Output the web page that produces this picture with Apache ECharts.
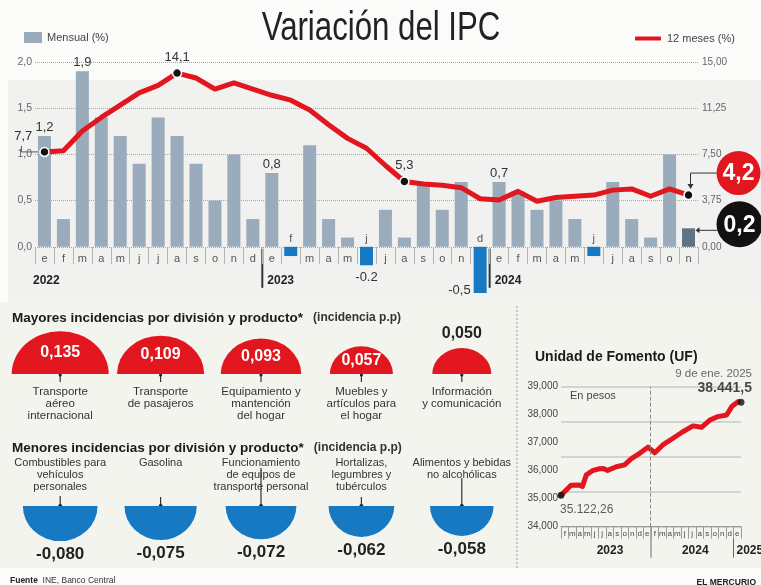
<!DOCTYPE html>
<html>
<head>
<meta charset="utf-8">
<script src="https://cdn.jsdelivr.net/npm/echarts@6/dist/echarts.min.js"></script>
<style>
  html, body { margin: 0; padding: 0; background: #fbfbf9; }
  #main { width: 761px; height: 585px; }
</style>
</head>
<body>
<div id="main"></div>
<script>
// ---- data ----
var months = ['e','f','m','a','m','j','j','a','s','o','n','d',
              'e','f','m','a','m','j','j','a','s','o','n','d',
              'e','f','m','a','m','j','j','a','s','o','n'];
var years = ['2022', '2023', '2024'];
var monthly = [1.2, 0.3, 1.9, 1.4, 1.2, 0.9, 1.4, 1.2, 0.9, 0.5, 1.0, 0.3,
               0.8, -0.1, 1.1, 0.3, 0.1, -0.2, 0.4, 0.1, 0.7, 0.4, 0.7, -0.5,
               0.7, 0.6, 0.4, 0.5, 0.3, -0.1, 0.7, 0.3, 0.1, 1.0, 0.2];
var annual = [7.7, 7.8, 9.4, 10.5, 11.5, 12.5, 13.1, 14.1, 13.7, 12.8, 13.3, 12.8,
              12.3, 11.9, 11.1, 9.9, 8.8, 8.0, 6.6, 5.3, 5.1, 5.0, 4.8, 3.9,
              3.8, 4.5, 3.7, 4.0, 4.1, 4.2, 4.6, 4.7, 4.1, 4.7, 4.2];
var barLabelled = [0, 2, 12, 24];
var negLabelled = [17, 23];
var negLabelText = ['-0.2', '-0,5'];
var lineDots = [0, 7, 19, 34];

var mayoresNames = ['Transporte\naéreo\ninternacional', 'Transporte\nde pasajeros',
                    'Equipamiento y\nmantención\ndel hogar', 'Muebles y\nartículos para\nel hogar',
                    'Información\ny comunicación'];
var mayoresValues = [0.135, 0.109, 0.093, 0.057, 0.050];
var menoresNames = ['Combustibles para\nvehículos\npersonales', 'Gasolina',
                    'Funcionamiento\nde equipos de\ntransporte personal', 'Hortalizas,\nlegumbres y\ntubérculos',
                    'Alimentos y bebidas\nno alcohólicas'];
var menoresValues = [-0.080, -0.075, -0.072, -0.062, -0.058];

var ufMonths = ['f','m','a','m','j','j','a','s','o','n','d','e',
                'f','m','a','m','j','j','a','s','o','n','d','e'];
var ufYears = ['2023', '2024', '2025'];
// days since 1 Jan 2023
var ufDays = [0, 41, 75, 88, 104, 129, 158, 174, 191, 227, 261, 289, 323,
              357, 385, 418, 460, 500, 542, 577, 611, 644, 680, 701, 728];
var ufValues = [35122, 35480, 35490, 35440, 35850, 36000, 36070, 36080, 36010, 36140, 36210, 36430, 36620,
                36840, 36640, 36920, 37160, 37390, 37600, 37550, 37810, 37930, 37990, 38290, 38470];
var ufStart = [0, 35122.26];
var ufEnd = [739, 38441.5];
var ufEndDate = '9 de ene. 2025';

// ---- helpers ----
var FR = "'Liberation Sans', Arial, sans-serif";
var RED = '#e2161e', BLUE = '#1679c2', BARC = '#9aabbb';
var K = 132; // px of radius per sqrt(p.p.)

function fmt(v, d) { return v.toFixed(d).replace('.', ','); }
function es(v, d) {
  var s = v.toFixed(d).split('.');
  s[0] = s[0].replace(/\B(?=(\d{3})+(?!\d))/g, '.');
  return d ? s[0] + ',' + s[1] : s[0];
}

var barData = monthly.map(function (v, i) {
  var item = { value: v };
  if (v < 0) item.itemStyle = { color: BLUE };
  if (i === monthly.length - 1) item.itemStyle = { color: '#5e7383' };
  return item;
});

var lineData = annual.map(function (v, i) {
  var item = { value: v };
  if (lineDots.indexOf(i) >= 0) {
    item.symbol = 'circle';
    item.symbolSize = 9;
    if (i === 0) {
      item.label = { show: true, position: [-16, -10], align: 'center', verticalAlign: 'middle' };
    } else if (i !== annual.length - 1) {
      item.label = { show: true, position: 'top', distance: 4 };
    }
  }
  return item;
});

var redData = mayoresValues.map(function (v, i) {
  var item = { value: [i, 0, v] };
  if (v < 0.055) item.label = { position: 'top', distance: 6, color: '#222' };
  return item;
});
var blueData = menoresValues.map(function (v, i) { return { value: [i, 1, v] }; });

var ufLine = ufDays.map(function (d, i) { return [d, ufValues[i]]; });

var option = {
  animation: false,
  backgroundColor: 'transparent',
  textStyle: { fontFamily: FR },
  title: [
    { text: '{b|Mayores incidencias por división y producto*}  {n|(incidencia p.p)}', left: 7, top: 304,
      textStyle: { rich: {
        b: { fontFamily: FR, fontWeight: 'bold', fontSize: 13.5, color: '#1a1a1a' },
        n: { fontFamily: FR, fontSize: 12, color: '#333' } } } },
    { text: '{b|Menores incidencias por división y producto*}  {n|(incidencia p.p)}', left: 7, top: 434,
      textStyle: { rich: {
        b: { fontFamily: FR, fontWeight: 'bold', fontSize: 13.5, color: '#1a1a1a' },
        n: { fontFamily: FR, fontSize: 12, color: '#333' } } } },
    { text: 'Unidad de Fomento (UF)', left: 530, top: 345,
      textStyle: { fontFamily: FR, fontWeight: 'bold', fontSize: 14, color: '#1a1a1a' } },
    { text: '{b|Fuente}  INE, Banco Central', left: 5, top: 571,
      textStyle: { fontFamily: FR, fontSize: 8.5, fontWeight: 'normal', color: '#333',
        rich: { b: { fontFamily: FR, fontSize: 8.5, fontWeight: 'bold', color: '#222' } } } },
    { text: 'EL MERCURIO', right: 0, top: 573,
      textStyle: { fontFamily: FR, fontSize: 8.5, fontWeight: 'bold', color: '#222' } }
  ],
  legend: [
    { data: ['Mensual (%)'], left: 19, top: 27, icon: 'rect', itemWidth: 18, itemHeight: 11, itemGap: 5,
      textStyle: { fontFamily: FR, fontSize: 11, color: '#444' } },
    { data: [{ name: '12 meses (%)', itemStyle: { color: RED } }], left: 628, top: 28,
      icon: 'roundRect', itemWidth: 28, itemHeight: 6,
      textStyle: { fontFamily: FR, fontSize: 11, color: '#444' } }
  ],
  grid: [
    { left: 35, right: 63, top: 62, bottom: 292 },
    { left: 10, right: 249, top: 320, bottom: 211 },
    { left: 10, right: 249, top: 506, bottom: 25 },
    { left: 561, right: 20, top: 386.7, bottom: 58.3 },
    { left: 35, right: 63, top: 62, bottom: 338 }   // carries the month axis at the zero line
  ],
  xAxis: [
    { type: 'category', gridIndex: 0, data: months,
      axisLine: { show: false }, axisTick: { show: false }, axisLabel: { show: false } },
    { type: 'category', gridIndex: 1, data: mayoresNames,
      axisLine: { show: false }, axisTick: { show: false },
      axisLabel: { interval: 0, margin: 12, fontFamily: FR, fontSize: 11.5, lineHeight: 12, color: '#333' } },
    { type: 'category', gridIndex: 2, data: menoresNames, position: 'top',
      axisLine: { show: false }, axisTick: { show: false },
      axisLabel: { interval: 0, margin: 49, verticalAlign: 'top', fontFamily: FR, fontSize: 11,
        lineHeight: 12, color: '#333' } },
    { type: 'value', gridIndex: 3, min: 0, max: 739, show: false },
    { type: 'category', gridIndex: 3, data: ufMonths, position: 'bottom',
      axisLine: { show: true, lineStyle: { color: '#9a9a96', width: 1 } },
      axisTick: { show: true, interval: 0, length: 12, lineStyle: { color: '#9a9a96' } },
      axisLabel: { interval: 0, margin: 3, fontFamily: FR, fontSize: 8, color: '#444' } },
    { type: 'category', gridIndex: 4, data: months, position: 'bottom',
      axisLine: { show: false },
      axisTick: { show: true, interval: 0, length: 17, lineStyle: { color: '#b4b4b4' } },
      axisLabel: { interval: 0, margin: 6, fontFamily: FR, fontSize: 11, color: '#555',
        formatter: function (v, i) { return monthly[i] < 0 ? '' : v; } } }
  ],
  yAxis: [
    { type: 'value', gridIndex: 0, min: -0.5, max: 2, interval: 0.5,
      axisLine: { show: false }, axisTick: { show: false },
      axisLabel: { margin: 3, fontFamily: FR, fontSize: 10.5, color: '#666',
        formatter: function (v) { return v < 0 ? '' : fmt(v, 1); } },
      splitLine: { show: true, lineStyle: { type: 'dotted', width: 1,
        color: ['rgba(0,0,0,0)', '#a8a8a8', '#a8a8a8', '#a8a8a8', '#a8a8a8', '#a8a8a8'] } } },
    { type: 'value', gridIndex: 0, position: 'right', min: -3.75, max: 15, interval: 3.75,
      axisLine: { show: false }, axisTick: { show: false }, splitLine: { show: false },
      axisLabel: { margin: 4, fontFamily: FR, fontSize: 10, color: '#666',
        formatter: function (v) { return v < 0 ? '' : fmt(v, 2); } } },
    { type: 'value', gridIndex: 1, min: 0, max: 1, show: false },
    { type: 'value', gridIndex: 2, min: 0, max: 1, show: false },
    { type: 'value', gridIndex: 3, min: 34000, max: 39000, interval: 1000,
      axisLine: { show: false }, axisTick: { show: false }, splitLine: { show: false },
      axisLabel: { margin: 3, fontFamily: FR, fontSize: 10, color: '#444' } },
    { type: 'value', gridIndex: 3, min: 0, max: 4, interval: 1, position: 'right',
      axisLine: { show: false }, axisTick: { show: false }, axisLabel: { show: false },
      splitLine: { show: true, lineStyle: { color: '#c9c9c4', width: 1.5 } } },
    { type: 'value', gridIndex: 4, min: 0, max: 1, show: false }
  ],
  series: [
    { name: 'Mensual (%)', type: 'bar', xAxisIndex: 0, yAxisIndex: 0, data: barData, barWidth: 13,
      itemStyle: { color: BARC },
      label: { show: true, position: 'top', distance: 2,
        formatter: function (p) {
          if (p.value < 0) return '{m|' + months[p.dataIndex] + '}';
          if (barLabelled.indexOf(p.dataIndex) >= 0) return '{v|' + fmt(p.value, 1) + '}';
          return '';
        },
        rich: { m: { fontFamily: FR, fontSize: 11, color: '#555' },
                v: { fontFamily: FR, fontSize: 13, color: '#333' } } },
      markPoint: { symbol: 'circle', symbolSize: 1, itemStyle: { color: 'rgba(0,0,0,0)' },
        data: negLabelled.map(function (idx, k) {
          return { coord: [idx, monthly[idx]], value: negLabelText[k],
            label: { show: true, formatter: negLabelText[k], fontFamily: FR, fontSize: 13, color: '#333',
              position: k === 0 ? 'bottom' : 'left', distance: k === 0 ? 5 : 9, offset: k === 0 ? [0, 0] : [0, -3] } };
        }) } },
    { name: '12 meses (%)', type: 'line', xAxisIndex: 0, yAxisIndex: 1, data: lineData,
      symbol: 'none', showAllSymbol: true, z: 3,
      lineStyle: { color: RED, width: 5, join: 'round' },
      itemStyle: { color: '#111', borderColor: '#fff', borderWidth: 1.5 },
      label: { show: false, fontFamily: FR, fontSize: 13, color: '#333',
        formatter: function (p) { return fmt(p.value, 1); } } },
    { type: 'scatter', xAxisIndex: 1, yAxisIndex: 2, data: redData,
      symbol: 'path://M0,10 A10,10 0 0 1 20,10 Z', symbolKeepAspect: false,
      symbolOffset: [0, '-50%'],
      symbolSize: function (val) { var r = K * Math.sqrt(Math.abs(val[2])); return [2 * r, 0.88 * r]; },
      itemStyle: { color: RED, opacity: 1 },
      label: { show: true, position: 'inside', fontFamily: FR, fontWeight: 'bold', fontSize: 16, color: '#fff',
        formatter: function (p) { return fmt(p.value[2], 3); } } },
    { type: 'scatter', xAxisIndex: 2, yAxisIndex: 3, data: blueData,
      symbol: 'path://M0,0 A10,10 0 0 0 20,0 Z', symbolKeepAspect: false,
      symbolOffset: [0, '50%'],
      symbolSize: function (val) { var r = K * Math.sqrt(Math.abs(val[2])); return [2 * r, 0.94 * r]; },
      itemStyle: { color: BLUE, opacity: 1 },
      label: { show: true, position: 'bottom', distance: 5, fontFamily: FR, fontWeight: 'bold', fontSize: 17,
        color: '#222', formatter: function (p) { return fmt(p.value[2], 3); } } },
    { type: 'line', xAxisIndex: 3, yAxisIndex: 4, data: ufLine, symbol: 'none',
      lineStyle: { color: RED, width: 5, join: 'round', cap: 'round' },
      markLine: { silent: true, symbol: ['none', 'none'], label: { show: false },
        lineStyle: { type: 'dashed', color: '#8a8a86', width: 1 },
        data: [{ xAxis: 365 }] } },
    { type: 'scatter', xAxisIndex: 3, yAxisIndex: 4, symbolSize: 7, z: 4,
      itemStyle: { color: '#111' },
      data: [
        { value: ufStart, label: { show: true, position: 'bottom', align: 'left', distance: 5, offset: [-1, 0],
            formatter: es(ufStart[1], 2), fontFamily: FR, fontSize: 12, color: '#333' } },
        { value: ufEnd, label: { show: true, position: 'top', align: 'right', distance: 3, offset: [11, 0],
            lineHeight: 15, fontFamily: FR, fontSize: 11.5, color: '#444',
            formatter: ufEndDate + '\n{b|' + es(ufEnd[1], 1) + '}',
            rich: { b: { fontFamily: FR, fontSize: 14, fontWeight: 'bold', color: '#1a1a1a', lineHeight: 15 } } } }
      ] }
  ]
};

var chart = echarts.init(document.getElementById('main'));
chart.setOption(option);

// ---- overlays that depend on computed pixel positions ----
function xPx(axis, i) { return chart.convertToPixel({ xAxisIndex: axis }, i); }
function bound(axis, i) { return (xPx(axis, i) + xPx(axis, i + 1)) / 2; }

var els = [];
els.push({ type: 'rect', z: -100, shape: { x: 8, y: 80, width: 753, height: 222 }, style: { fill: '#f1f1ef' } });
els.push({ type: 'rect', z: -100, shape: { x: 0, y: 302, width: 761, height: 266 }, style: { fill: '#f4f4ef' } });
els.push({ type: 'line', shape: { x1: 517, y1: 306, x2: 517, y2: 568 },
  style: { stroke: '#9a9a9a', lineWidth: 1, lineDash: [2, 2] } });

// title, condensed like the printed face
els.push({ type: 'text', x: 381, y: 29, scaleX: 0.78,
  style: { text: 'Variación del IPC', font: '40px ' + FR, fill: '#222', align: 'center', verticalAlign: 'middle' } });

// year separators and labels on the IPC chart
var y0 = chart.convertToPixel({ yAxisIndex: 0 }, 0);
years.forEach(function (yr, k) {
  var x;
  if (k === 0) {
    x = xPx(0, 0) - 11.5;
  } else {
    x = bound(0, 12 * k - 1);
    els.push({ type: 'line', shape: { x1: x, y1: y0 + 2, x2: x, y2: y0 + 41 },
      style: { stroke: '#333', lineWidth: 2 } });
    x += 5;
  }
  els.push({ type: 'text', style: { x: x, y: y0 + 34, text: yr, font: 'bold 12px ' + FR,
    fill: '#222', align: 'left', verticalAlign: 'middle' } });
});

// leader for the first point label
var p0 = chart.convertToPixel({ seriesIndex: 1 }, [0, annual[0]]);
els.push({ type: 'polyline', shape: { points: [[p0[0] - 23, p0[1] - 6], [p0[0] - 23, p0[1]], [p0[0] - 5, p0[1]]] },
  style: { stroke: '#555', lineWidth: 1, fill: null } });

// callout circles for the latest values
var last = annual.length - 1;
var pl = chart.convertToPixel({ seriesIndex: 1 }, [last, annual[last]]);
var pb = chart.convertToPixel({ seriesIndex: 0 }, [last, monthly[last]]);
var rc = [pl[0] + 50, pl[1] - 22], bc = [pb[0] + 51, pb[1] - 4], R = 22;
els.push({ type: 'polyline', shape: { points: [[rc[0] - R, rc[1]], [pl[0] + 2, rc[1]], [pl[0] + 2, pl[1] - 10]] },
  style: { stroke: '#333', lineWidth: 1, fill: null } });
els.push({ type: 'polygon', shape: { points: [[pl[0] - 1, pl[1] - 11], [pl[0] + 5, pl[1] - 11], [pl[0] + 2, pl[1] - 6]] },
  style: { fill: '#333' } });
els.push({ type: 'line', shape: { x1: bc[0] - R, y1: pb[1] + 2, x2: pb[0] + 10, y2: pb[1] + 2 },
  style: { stroke: '#333', lineWidth: 1 } });
els.push({ type: 'polygon', shape: { points: [[pb[0] + 11, pb[1] - 1], [pb[0] + 11, pb[1] + 5], [pb[0] + 7, pb[1] + 2]] },
  style: { fill: '#333' } });
els.push({ type: 'circle', shape: { cx: rc[0], cy: rc[1], r: R }, style: { fill: RED } });
els.push({ type: 'text', style: { x: rc[0], y: rc[1] + 1, text: fmt(annual[last], 1), font: 'bold 23px ' + FR,
  fill: '#fff', align: 'center', verticalAlign: 'middle' } });
els.push({ type: 'circle', shape: { cx: bc[0], cy: bc[1], r: R + 1 }, style: { fill: '#111' } });
els.push({ type: 'text', style: { x: bc[0], y: bc[1] + 1, text: fmt(monthly[last], 1), font: 'bold 23px ' + FR,
  fill: '#fff', align: 'center', verticalAlign: 'middle' } });

// pins under / over the half discs
mayoresValues.forEach(function (v, i) {
  var p = chart.convertToPixel({ seriesIndex: 2 }, [i, 0]);
  els.push({ type: 'line', shape: { x1: p[0], y1: p[1], x2: p[0], y2: p[1] + 8 }, style: { stroke: '#333', lineWidth: 1.2 } });
  els.push({ type: 'circle', shape: { cx: p[0], cy: p[1] + 1, r: 1.6 }, style: { fill: '#222' } });
});
var pinLen = [10, 9, 38, 9, 28];
menoresValues.forEach(function (v, i) {
  var p = chart.convertToPixel({ seriesIndex: 3 }, [i, 1]);
  els.push({ type: 'line', shape: { x1: p[0], y1: p[1] - pinLen[i], x2: p[0], y2: p[1] }, style: { stroke: '#333', lineWidth: 1.2 } });
  els.push({ type: 'circle', shape: { cx: p[0], cy: p[1], r: 2 }, style: { fill: '#222' } });
});

// UF year separators and labels
var yb = chart.convertToPixel({ yAxisIndex: 4 }, 34000);
var s1 = bound(4, 11), s2 = bound(4, 22);
[s1, s2].forEach(function (x) {
  els.push({ type: 'line', shape: { x1: x, y1: yb, x2: x, y2: yb + 31 }, style: { stroke: '#666', lineWidth: 1 } });
});
els.push({ type: 'text', style: { x: (xPx(4, 0) + xPx(4, 11)) / 2 + 4, y: yb + 24, text: ufYears[0],
  font: 'bold 12px ' + FR, fill: '#222', align: 'center', verticalAlign: 'middle' } });
els.push({ type: 'text', style: { x: (xPx(4, 12) + xPx(4, 22)) / 2 + 3, y: yb + 24, text: ufYears[1],
  font: 'bold 12px ' + FR, fill: '#222', align: 'center', verticalAlign: 'middle' } });
els.push({ type: 'text', style: { x: s2 + 3, y: yb + 24, text: ufYears[2],
  font: 'bold 12px ' + FR, fill: '#222', align: 'left', verticalAlign: 'middle' } });
els.push({ type: 'text', style: { x: 570, y: 396, text: 'En pesos', font: '11px ' + FR,
  fill: '#444', align: 'left', verticalAlign: 'middle' } });

chart.setOption({ graphic: { elements: els } });
</script>
</body>
</html>
